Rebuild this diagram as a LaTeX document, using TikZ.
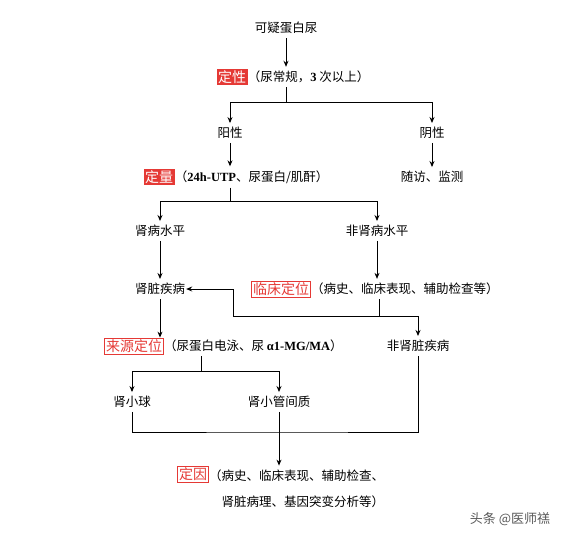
\documentclass[tikz,border=0pt]{standalone}
\usepackage{fontspec}
\setmainfont{Liberation Serif}
\newfontfamily\cjk{Noto Sans CJK SC}
\usetikzlibrary{arrows.meta, positioning}
\definecolor{markred}{HTML}{E53935}

\begin{document}
\begin{tikzpicture}[
    x=1pt, y=-1pt,
    txt/.style={inner xsep=1pt, inner ysep=4pt, font=\cjk\fontsize{12.5}{15}\selectfont},
    note/.style={txt, anchor=west, inner xsep=0pt},
    tagfill/.style={fill=markred, text=white, inner sep=1.5pt, font=\cjk\fontsize{14}{16}\selectfont},
    tagline/.style={draw=markred, line width=0.8pt, text=markred, inner sep=1.5pt, font=\cjk\fontsize{14}{16}\selectfont},
    arrow/.style={-{Stealth[length=6pt, width=5pt]}, line width=0.9pt},
    link/.style={line width=0.9pt}
  ]
    \useasboundingbox (0,0) rectangle (567,538);

    % Screening
    \node[txt] (suspect) at (286,28) {可疑蛋白尿};
    \node[tagfill] (qual) at (232,77) {定性};
    \node[note] (qualnote) at (qual.east) {（尿常规，{\rmfamily\bfseries 3} 次以上）};
    \coordinate (split1) at (286,102);
    \node[txt] (pos) at (230,133) {阳性};
    \node[txt] (neg) at (432,133) {阴性};

    % Quantification
    \node[tagfill] (quant) at (159,177) {定量};
    \node[note] (quantnote) at (quant.east) {（{\rmfamily\bfseries 24h-UTP}、尿蛋白/肌酐）};
    \node[txt] (follow) at (432,177) {随访、监测};
    \coordinate (split2) at (230,201);
    \node[txt] (renal) at (160,231) {肾病水平};
    \node[txt] (nonrenal) at (377,231) {非肾病水平};

    % Clinical localisation
    \node[txt] (kidney) at (160,289) {肾脏疾病};
    \node[tagline] (clinic) at (281,289) {临床定位};
    \node[note] (clinicnote) at (clinic.east) {（病史、临床表现、辅助检查等）};
    \coordinate (split3) at (379,316);
    \coordinate (turn) at (233,316);
    \node[txt] (nonkidney) at (418,346) {非肾脏疾病};

    % Source localisation
    \node[tagline] (source) at (134,346) {来源定位};
    \node[note] (sourcenote) at (source.east) {（尿蛋白电泳、尿 {\rmfamily\bfseries α1-MG/MA}）};
    \coordinate (split4) at (201,371);
    \node[txt] (glom) at (132,402) {肾小球};
    \node[txt] (tubule) at (279,402) {肾小管间质};
    \coordinate (merge) at (279,432);

    % Cause
    \node[tagline] (cause) at (193,474) {定因};
    \node[note, anchor=north west, align=right, font=\cjk\fontsize{12.5}{26}\selectfont] (causenote) at (cause.north east) {（病史、临床表现、辅助检查、\\肾脏病理、基因突变分析等）};

    \node[font=\cjk\fontsize{13}{15}\selectfont, text=black!65] (mark) at (510,519) {头条 @医师禚};

    % Arrows
    \draw[arrow] (suspect) -- (suspect |- qualnote.north);
    \draw[link] (suspect |- qualnote.south) -- (split1);
    \draw[arrow] (split1) -| (pos);
    \draw[arrow] (split1) -| (neg);
    \draw[arrow] (pos) -- (pos |- quantnote.north);
    \draw[arrow] (neg) -- (follow);
    \draw[link] (pos |- quantnote.south) -- (split2);
    \draw[arrow] (split2) -| (renal);
    \draw[arrow] (split2) -| (nonrenal);
    \draw[arrow] (renal) -- (kidney);
    \draw[arrow] (nonrenal) -- (nonrenal |- clinicnote.north);
    \draw[link] (split3 |- clinicnote.south) -- (split3);
    \draw[arrow] (split3) -- (turn) |- (kidney);
    \draw[arrow] (split3) -| (nonkidney);
    \draw[arrow] (kidney) -- (kidney |- source.north);
    \draw[link] (split4 |- sourcenote.south) -- (split4);
    \draw[arrow] (split4) -| (glom);
    \draw[arrow] (split4) -| (tubule);
    \draw[link] (glom) |- (merge) -| (nonkidney);
    \draw[arrow] (tubule) -- (tubule |- causenote.north);
\end{tikzpicture}
\end{document}
